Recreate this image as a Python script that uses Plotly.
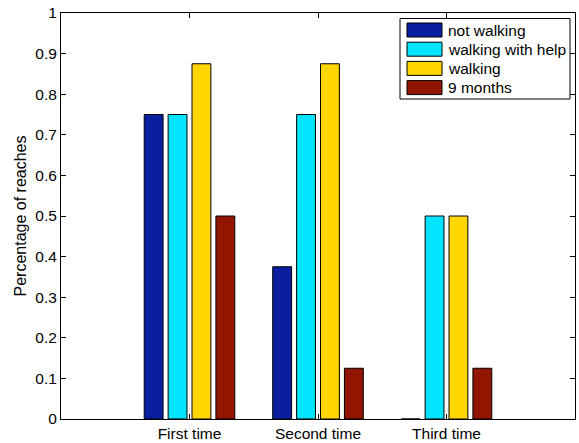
import plotly.graph_objects as go

categories = ["First time", "Second time", "Third time"]
cat_pos = [1, 2, 3]
series_names = ["not walking", "walking with help", "walking", "9 months"]
not_walking = [0.75, 0.375, 0.0]
walking_with_help = [0.75, 0.75, 0.5]
walking = [0.875, 0.875, 0.5]
nine_months = [0.5, 0.125, 0.125]
y_ticks = [0, 0.1, 0.2, 0.3, 0.4, 0.5, 0.6, 0.7, 0.8, 0.9, 1]
y_tick_labels = ["0", "0.1", "0.2", "0.3", "0.4", "0.5", "0.6", "0.7", "0.8", "0.9", "1"]

colors = ["#0A1F9F", "#00E4FF", "#FFD600", "#921500"]
values = [not_walking, walking_with_help, walking, nine_months]

W, H = 579, 443
L, R, T, B = 61, 575, 13, 419  # plot area in screen pixels
FONT = "Liberation Sans, Arial, Helvetica, sans-serif"
FS = 15.5

fig = go.Figure()
for name, vals, col in zip(series_names, values, colors):
    fig.add_trace(go.Bar(
        x=cat_pos, y=vals, name=name,
        marker=dict(color=col, line=dict(color="black", width=1)),
        showlegend=False, hoverinfo="skip",
    ))

def px_x(p):
    return (p - L) / (R - L)

def px_y(p):
    return (B - p) / (B - T)

shapes = []
annotations = []
# legend box
shapes.append(dict(type="rect", xref="paper", yref="paper",
                   x0=px_x(400), x1=px_x(570), y0=px_y(99), y1=px_y(18.5),
                   line=dict(color="black", width=1), fillcolor="white", layer="above"))
for i, (name, col) in enumerate(zip(series_names, colors)):
    top = 23 + i * 19.2
    shapes.append(dict(type="rect", xref="paper", yref="paper",
                       x0=px_x(407), x1=px_x(442), y0=px_y(top + 14), y1=px_y(top),
                       line=dict(color="black", width=1), fillcolor=col, layer="above"))
    annotations.append(dict(xref="paper", yref="paper", x=px_x(446), y=px_y(top + 7),
                            text=name, showarrow=False, xanchor="left", yanchor="middle",
                            font=dict(family=FONT, size=FS, color="black")))

fig.update_layout(
    width=W, height=H,
    margin=dict(l=L, r=W - R, t=T, b=H - B, pad=0),
    paper_bgcolor="white", plot_bgcolor="white",
    barmode="group", bargap=0.256, bargroupgap=0.21,
    font=dict(family=FONT, size=FS, color="black"),
    shapes=shapes, annotations=annotations,
    showlegend=False, hovermode=False,
)
fig.update_xaxes(
    range=[0, 4], tickvals=cat_pos, ticktext=categories,
    ticks="inside", ticklen=5, tickcolor="black",
    showline=True, linecolor="black", linewidth=1, mirror="ticks",
    showgrid=False, zeroline=False, automargin=False,
    ticklabeloverflow="allow",
    tickfont=dict(family=FONT, size=FS),
)
fig.update_yaxes(
    range=[0, 1], tickvals=y_ticks, ticktext=y_tick_labels,
    ticks="inside", ticklen=5, tickcolor="black",
    showline=True, linecolor="black", linewidth=1, mirror="ticks",
    showgrid=False, zeroline=False, automargin=False,
    ticklabeloverflow="allow",
    tickfont=dict(family=FONT, size=FS),
    title=dict(text="Percentage of reaches", font=dict(family=FONT, size=16), standoff=4),
)
fig.write_html("out.html", config={"displayModeBar": False},
               post_script="document.body.style.margin='0';document.body.style.padding='0';")
